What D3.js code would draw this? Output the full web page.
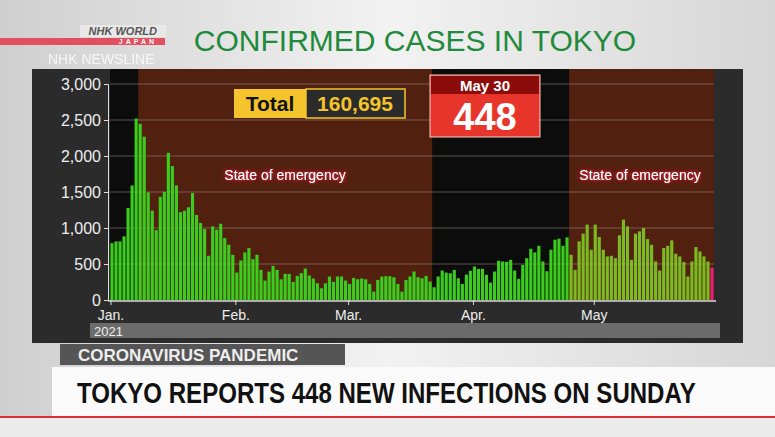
<!DOCTYPE html>
<html><head><meta charset="utf-8">
<script src="https://cdn.jsdelivr.net/npm/d3@7"></script>
<style>body{margin:0;background:#ddd;}svg{display:block;font-family:"Liberation Sans",Arial,sans-serif;}</style>
</head><body><svg id="c" width="775" height="437"></svg>
<script>
const janVals=[790,814,814,884,1278,1591,2520,2447,2268,1494,1240,970,1433,1502,2044,1860,1592,1219,1240,1288,1485,1181,1070,986,614,1023,977,1060,860,767,628];
const febVals=[381,549,660,721,567,628,418,270,395,474,418,288,363,363,251,335,372,437,340,298,232,163,232,326,251,326,326,270];
const marVals=[223,307,288,298,288,223,116,279,326,330,330,316,223,116,279,326,395,316,302,335,256,177,326,409,381,372,418,302,223,353,405];
const aprVals=[465,433,433,349,242,395,544,535,530,558,409,293,488,581,712,660,753,535,400,698,837,851,753,870,628,418,814,921,1047,698];
const mayVals=[1047,874,698,605,614,581,898,1116,1023,558,921,953,1000,846,767,535,409,721,753,828,642,605,526,326,535,735,674,605,535,448];
const values=[...janVals,...febVals,...marVals,...aprVals,...mayVals];
const dayIdx=values.map((v,i)=>i);
const yTicks=[0,500,1000,1500,2000,2500,3000];
const monthLabels=["Jan.","Feb.","Mar.","Apr.","May"];
const monthStart=[0,31,59,90,120];
const emergencies=[[7,80],[114,150]];
const totalText="160,695", latestDate="May 30", latestVal="448";

const svg=d3.select("#c");
const g0=svg.append("defs").append("linearGradient").attr("id","bg").attr("x1",0).attr("x2",1).attr("y1",0).attr("y2",0);
g0.append("stop").attr("offset","0").attr("stop-color","#cfcfcf");
g0.append("stop").attr("offset","0.5").attr("stop-color","#f2f2f2");
g0.append("stop").attr("offset","1").attr("stop-color","#d6d6d6");
svg.append("rect").attr("width",775).attr("height",437).attr("fill","url(#bg)");
svg.append("rect").attr("x",0).attr("y",38).attr("width",165).attr("height",7).attr("fill","#e0505e");
svg.append("rect").attr("x",80).attr("y",25).attr("width",86).attr("height",12).attr("fill","#e8e8e8");
svg.append("text").attr("x",157).attr("y",35).attr("text-anchor","end").attr("font-size",11).attr("font-weight","bold").attr("font-style","italic").attr("fill","#555").text("NHK WORLD");
svg.append("text").attr("x",157).attr("y",44).attr("text-anchor","end").attr("font-size",7).attr("font-weight","bold").attr("letter-spacing",3).attr("fill","#fff").text("JAPAN");
svg.append("text").attr("x",48).attr("y",64).attr("font-size",14).attr("fill","#fff").attr("opacity",0.8).text("NHK NEWSLINE");
svg.append("text").attr("x",415).attr("y",51).attr("text-anchor","middle").attr("font-size",30).attr("fill","#1e8a3a").text("CONFIRMED CASES IN TOKYO");

svg.append("rect").attr("x",32).attr("y",69).attr("width",711).attr("height",274).attr("fill","#2b2b2b");
const x=d3.scaleBand().domain(dayIdx).range([110,714]).paddingInner(0.22).paddingOuter(0.1);
const step=x.step();
const y=d3.scaleLinear().domain([0,3000]).range([300,84]);
const xl=i=>110+i*step;
svg.append("rect").attr("x",110).attr("y",69).attr("width",604).attr("height",231).attr("fill","#0c0c0c");
emergencies.forEach(e=>svg.append("rect").attr("x",xl(e[0])).attr("y",69).attr("width",xl(e[1])-xl(e[0])).attr("height",231).attr("fill","#52200f"));
svg.append("g").selectAll("line").data(yTicks.slice(1)).join("line").attr("x1",110).attr("x2",714).attr("y1",d=>y(d)).attr("y2",d=>y(d)).attr("stroke","#9a8a85").attr("stroke-width",0.8).attr("opacity",0.7);
const inEm2=i=>i>=emergencies[1][0];
svg.append("g").selectAll("rect").data(values).join("rect")
 .attr("x",(d,i)=>x(i)).attr("width",x.bandwidth()).attr("y",d=>y(d)).attr("height",d=>300-y(d))
 .attr("fill",(d,i)=>i===values.length-1?"#e8207a":inEm2(i)?"#7cba22":"#3ccc1e");
const ya=svg.append("g").attr("transform","translate(108,0)").call(d3.axisLeft(y).tickValues(yTicks).tickFormat(d3.format(",")).tickSize(4));
ya.select(".domain").attr("stroke","#ddd");
ya.selectAll("line").attr("stroke","#ddd");
ya.selectAll("text").attr("fill","#eee").attr("font-size",16).attr("font-family","Liberation Sans,Arial");
svg.append("line").attr("x1",108).attr("x2",716).attr("y1",301).attr("y2",301).attr("stroke","#ddd").attr("stroke-width",1.5);
const mx=svg.append("g").selectAll("g").data(monthStart).join("g").attr("transform",d=>`translate(${xl(d)+1},0)`);
mx.append("line").attr("y1",300).attr("y2",305).attr("stroke","#ddd");
mx.append("text").attr("y",320).attr("text-anchor","middle").attr("fill","#eee").attr("font-size",14).text((d,i)=>monthLabels[i]);
svg.append("rect").attr("x",90).attr("y",323).attr("width",630).attr("height",15).attr("fill","#6b6b6b");
svg.append("text").attr("x",94).attr("y",336).attr("fill","#eee").attr("font-size",13).text("2021");

const glow=svg.append("defs").append("filter").attr("id","glow");
glow.append("feGaussianBlur").attr("in","SourceAlpha").attr("stdDeviation",2).attr("result","b");
glow.append("feFlood").attr("flood-color","#e0203a");
glow.append("feComposite").attr("in2","b").attr("operator","in");
const mg=glow.append("feMerge");mg.append("feMergeNode");mg.append("feMergeNode");mg.append("feMergeNode").attr("in","SourceGraphic");
[[285,"State of emergency"],[640,"State of emergency"]].forEach(d=>svg.append("text").attr("x",d[0]).attr("y",180).attr("text-anchor","middle").attr("font-size",14).attr("fill","#fff").attr("filter","url(#glow)").text(d[1]));

svg.append("rect").attr("x",234).attr("y",89).attr("width",72).attr("height",29).attr("fill","#f5c32c");
svg.append("rect").attr("x",306).attr("y",89).attr("width",99).attr("height",29).attr("fill","#2b2b2b").attr("stroke","#f5c32c").attr("stroke-width",1.5);
svg.append("text").attr("x",270).attr("y",111).attr("text-anchor","middle").attr("font-size",21).attr("font-weight","bold").attr("fill","#111").text("Total");
svg.append("text").attr("x",355).attr("y",111).attr("text-anchor","middle").attr("font-size",21).attr("font-weight","bold").attr("fill","#f5c32c").text(totalText);

svg.append("rect").attr("x",430).attr("y",75).attr("width",110).attr("height",62).attr("fill","#e8352c").attr("stroke","#f0d0c8").attr("stroke-width",1);
svg.append("rect").attr("x",431).attr("y",76).attr("width",108).attr("height",18).attr("fill","#8c0c0c");
svg.append("text").attr("x",485).attr("y",91).attr("text-anchor","middle").attr("font-size",15).attr("font-weight","bold").attr("fill","#fff").text(latestDate);
svg.append("text").attr("x",485).attr("y",130).attr("text-anchor","middle").attr("font-size",38).attr("font-weight","bold").attr("fill","#fff").text(latestVal);

svg.append("rect").attr("x",60).attr("y",344).attr("width",285).attr("height",21).attr("fill","#555");
svg.append("text").attr("x",78).attr("y",361).attr("font-size",17).attr("font-weight","bold").attr("fill","#eee").text("CORONAVIRUS PANDEMIC");
svg.append("rect").attr("x",52).attr("y",367).attr("width",723).attr("height",49).attr("fill","#fafafa");
svg.append("text").attr("transform","translate(77,403) scale(0.83,1)").attr("font-size",29).attr("font-weight","bold").attr("fill","#111").text("TOKYO REPORTS 448 NEW INFECTIONS ON SUNDAY");
svg.append("rect").attr("x",0).attr("y",416).attr("width",775).attr("height",2).attr("fill","#d8303a");
svg.append("rect").attr("x",0).attr("y",418).attr("width",775).attr("height",19).attr("fill","#ebebeb");
</script></body></html>
